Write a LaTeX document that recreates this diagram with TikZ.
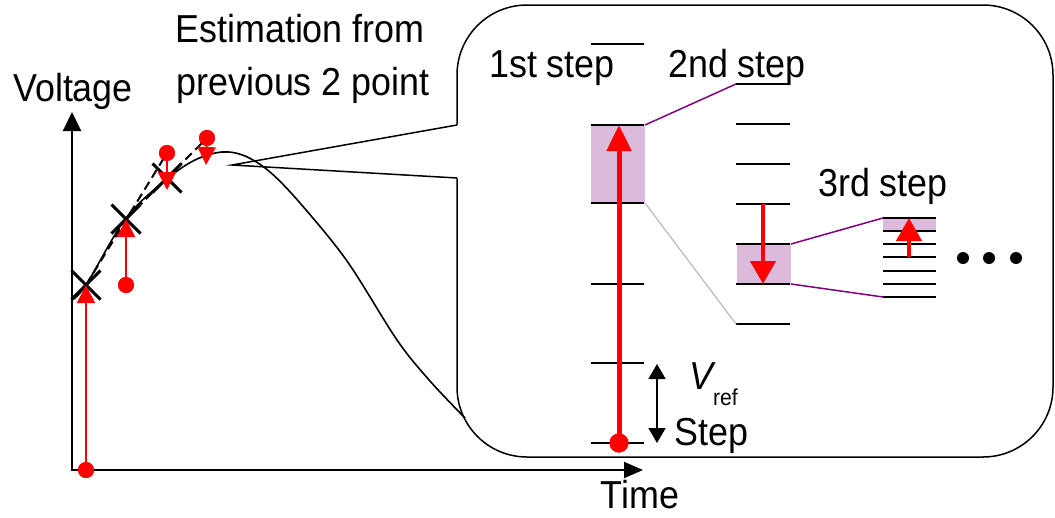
\documentclass[tikz,border=0pt]{standalone}
\usepackage{fontspec}
\setmainfont{Liberation Sans}[FakeStretch=0.92]
\usetikzlibrary{arrows.meta,shapes.misc}
\definecolor{shadebox}{RGB}{220,186,220}
\definecolor{purp}{RGB}{128,0,128}
\definecolor{lgray}{RGB}{190,190,190}
\begin{document}
\begin{tikzpicture}[x=1pt,y=-1pt,
  lbl/.style={font=\fontsize{39}{44}\selectfont, inner sep=0pt, anchor=base},
  axisline/.style={line width=2pt},
  curveline/.style={line width=1.6pt},
  xm/.style={cross out, draw, line width=3pt, minimum size=26pt, inner sep=0pt},
  rdot/.style={circle, fill=red, minimum size=16pt, inner sep=0pt},
  rthin/.style={red, line width=1.8pt, -{Triangle[width=18pt,length=18pt]}},
  estline/.style={dash pattern=on 9pt off 5pt, line width=2pt},
  tickline/.style={line width=1.6pt},
  bigarrow/.style={red, line width=5pt, -{Triangle[width=24pt,length=26pt]}},
  midarrow/.style={red, line width=4.5pt, -{Triangle[width=25pt,length=23pt]}},
  bdot/.style={circle, fill=black, minimum size=12pt, inner sep=0pt}
]
\useasboundingbox (0,0) rectangle (1055,517);

% axes
\coordinate (O) at (72,470);
\coordinate (ytip) at (72,112);
\coordinate (xtip) at (643,470);
\draw[axisline, {Triangle[width=18pt,length=19pt]}-{Triangle[width=16pt,length=19pt]}] (ytip) -- (O) -- (xtip);

% bubble
\draw[line width=1.5pt, fill=white, rounded corners=70pt] (457,5) rectangle (1053,457);
\coordinate (pu) at (457,125);
\coordinate (pl) at (457,178);
\coordinate (ptip) at (232,165);
\fill[white] (459.5,124.5) -- (ptip) -- (459.5,178.5) -- cycle;
\draw[line width=1.5pt] (pu) -- (ptip) -- (pl);

% crosses and dots
\node[xm] (c1) at (86,285) {};
\node[xm] (c2) at (126,219) {};
\node[xm] (c3) at (167,178) {};
\node[rdot] (d1) at (86,470) {};
\node[rdot] (d2) at (126,285) {};
\node[rdot] (d3) at (167,153) {};
\node[rdot] (d4) at (207,138) {};
\coordinate (t3) at (167,190);
\coordinate (t4) at (206,165);

% estimation lines
\draw[estline] (c1.center) -- (d3.center);
\draw[estline] (c2.center) -- (d4.center);

% voltage curve
\draw[curveline] plot[smooth, tension=0.55] coordinates {(72,300) (86,285) (126,218) (167,179) (195,160) (222,152) (245,156) (270,172) (300,203) (347,261) (397,340) (430,381) (465,418)};

% red estimation arrows
\draw[rthin] (d1.center) -- (c1.center);
\draw[rthin] (d2.center) -- (c2.center);
\draw[rthin] (d3.center) -- (t3);
\draw[rthin] (d4.center) -- (t4);
\node[rdot] at (d1) {};
\node[rdot] at (d2) {};
\node[rdot] at (d3) {};
\node[rdot] at (d4) {};

% labels left
\node[lbl] (volt) at (73,101) {Voltage};
\node[lbl] (est1) at (300,42) {Estimation from};
\node[lbl] (est2) at (303,95) {previous 2 point};
\node[lbl] (time) at (640,508) {Time};

% shaded boxes
\fill[shadebox] (591,125) rectangle (645,203);
\fill[shadebox] (737,244) rectangle (791,284);
\fill[shadebox] (883,218) rectangle (936,231);

% ticks column 1
\foreach \yy in {44,125,203,284,363,443} {\draw[tickline] (591,\yy) -- (644,\yy);}
% ticks column 2
\foreach \yy in {84,124,164,204,244,284,324} {\draw[tickline] (736,\yy) -- (790,\yy);}
% ticks column 3
\foreach \yy in {218,231,244,257,271,284,297} {\draw[tickline] (883,\yy) -- (936,\yy);}

% zoom connectors
\coordinate (b1t) at (645,125);
\coordinate (b1b) at (645,203);
\coordinate (k2t) at (736,84);
\coordinate (k2b) at (736,324);
\coordinate (b2t) at (791,244);
\coordinate (b2b) at (791,284);
\coordinate (k3t) at (883,218);
\coordinate (k3b) at (883,297);
\draw[purp, line width=1.5pt] (b1t) -- (k2t);
\draw[lgray, line width=1.3pt] (b1b) -- (k2b);
\draw[purp, line width=1.5pt] (b2t) -- (k3t);
\draw[purp, line width=1.5pt] (b2b) -- (k3b);

% big red arrows
\node[rdot, minimum size=19pt] (r0) at (619,443) {};
\coordinate (r0tip) at (619,125);
\draw[bigarrow] (r0.center) -- (r0tip);
\node[rdot, minimum size=19pt] at (r0) {};
\coordinate (r2s) at (763,204);
\coordinate (r2e) at (763,284);
\draw[midarrow] (r2s) -- (r2e);
\coordinate (r3s) at (909,257);
\coordinate (r3e) at (909,218);
\draw[midarrow] (r3s) -- (r3e);

% ellipsis dots
\node[bdot] (e1) at (963,258) {};
\node[bdot] (e2) at (989,258) {};
\node[bdot] (e3) at (1016,258) {};

% Vref step
\coordinate (vs1) at (657,364);
\coordinate (vs2) at (657,443);
\draw[line width=1.5pt, {Triangle[width=17pt,length=15pt]}-{Triangle[width=17pt,length=15pt]}] (vs1) -- (vs2);
\node[lbl, anchor=base west] (vref) at (689,389) {\itshape V\upshape\raisebox{-16pt}{\fontsize{23}{23}\selectfont ref}};
\node[lbl, anchor=base west] (step) at (674,445) {Step};

% labels in bubble
\node[lbl] (s1) at (552,77) {1st step};
\node[lbl] (s2) at (737,77) {2nd step};
\node[lbl] (s3) at (883,196) {3rd step};
\end{tikzpicture}
\end{document}
